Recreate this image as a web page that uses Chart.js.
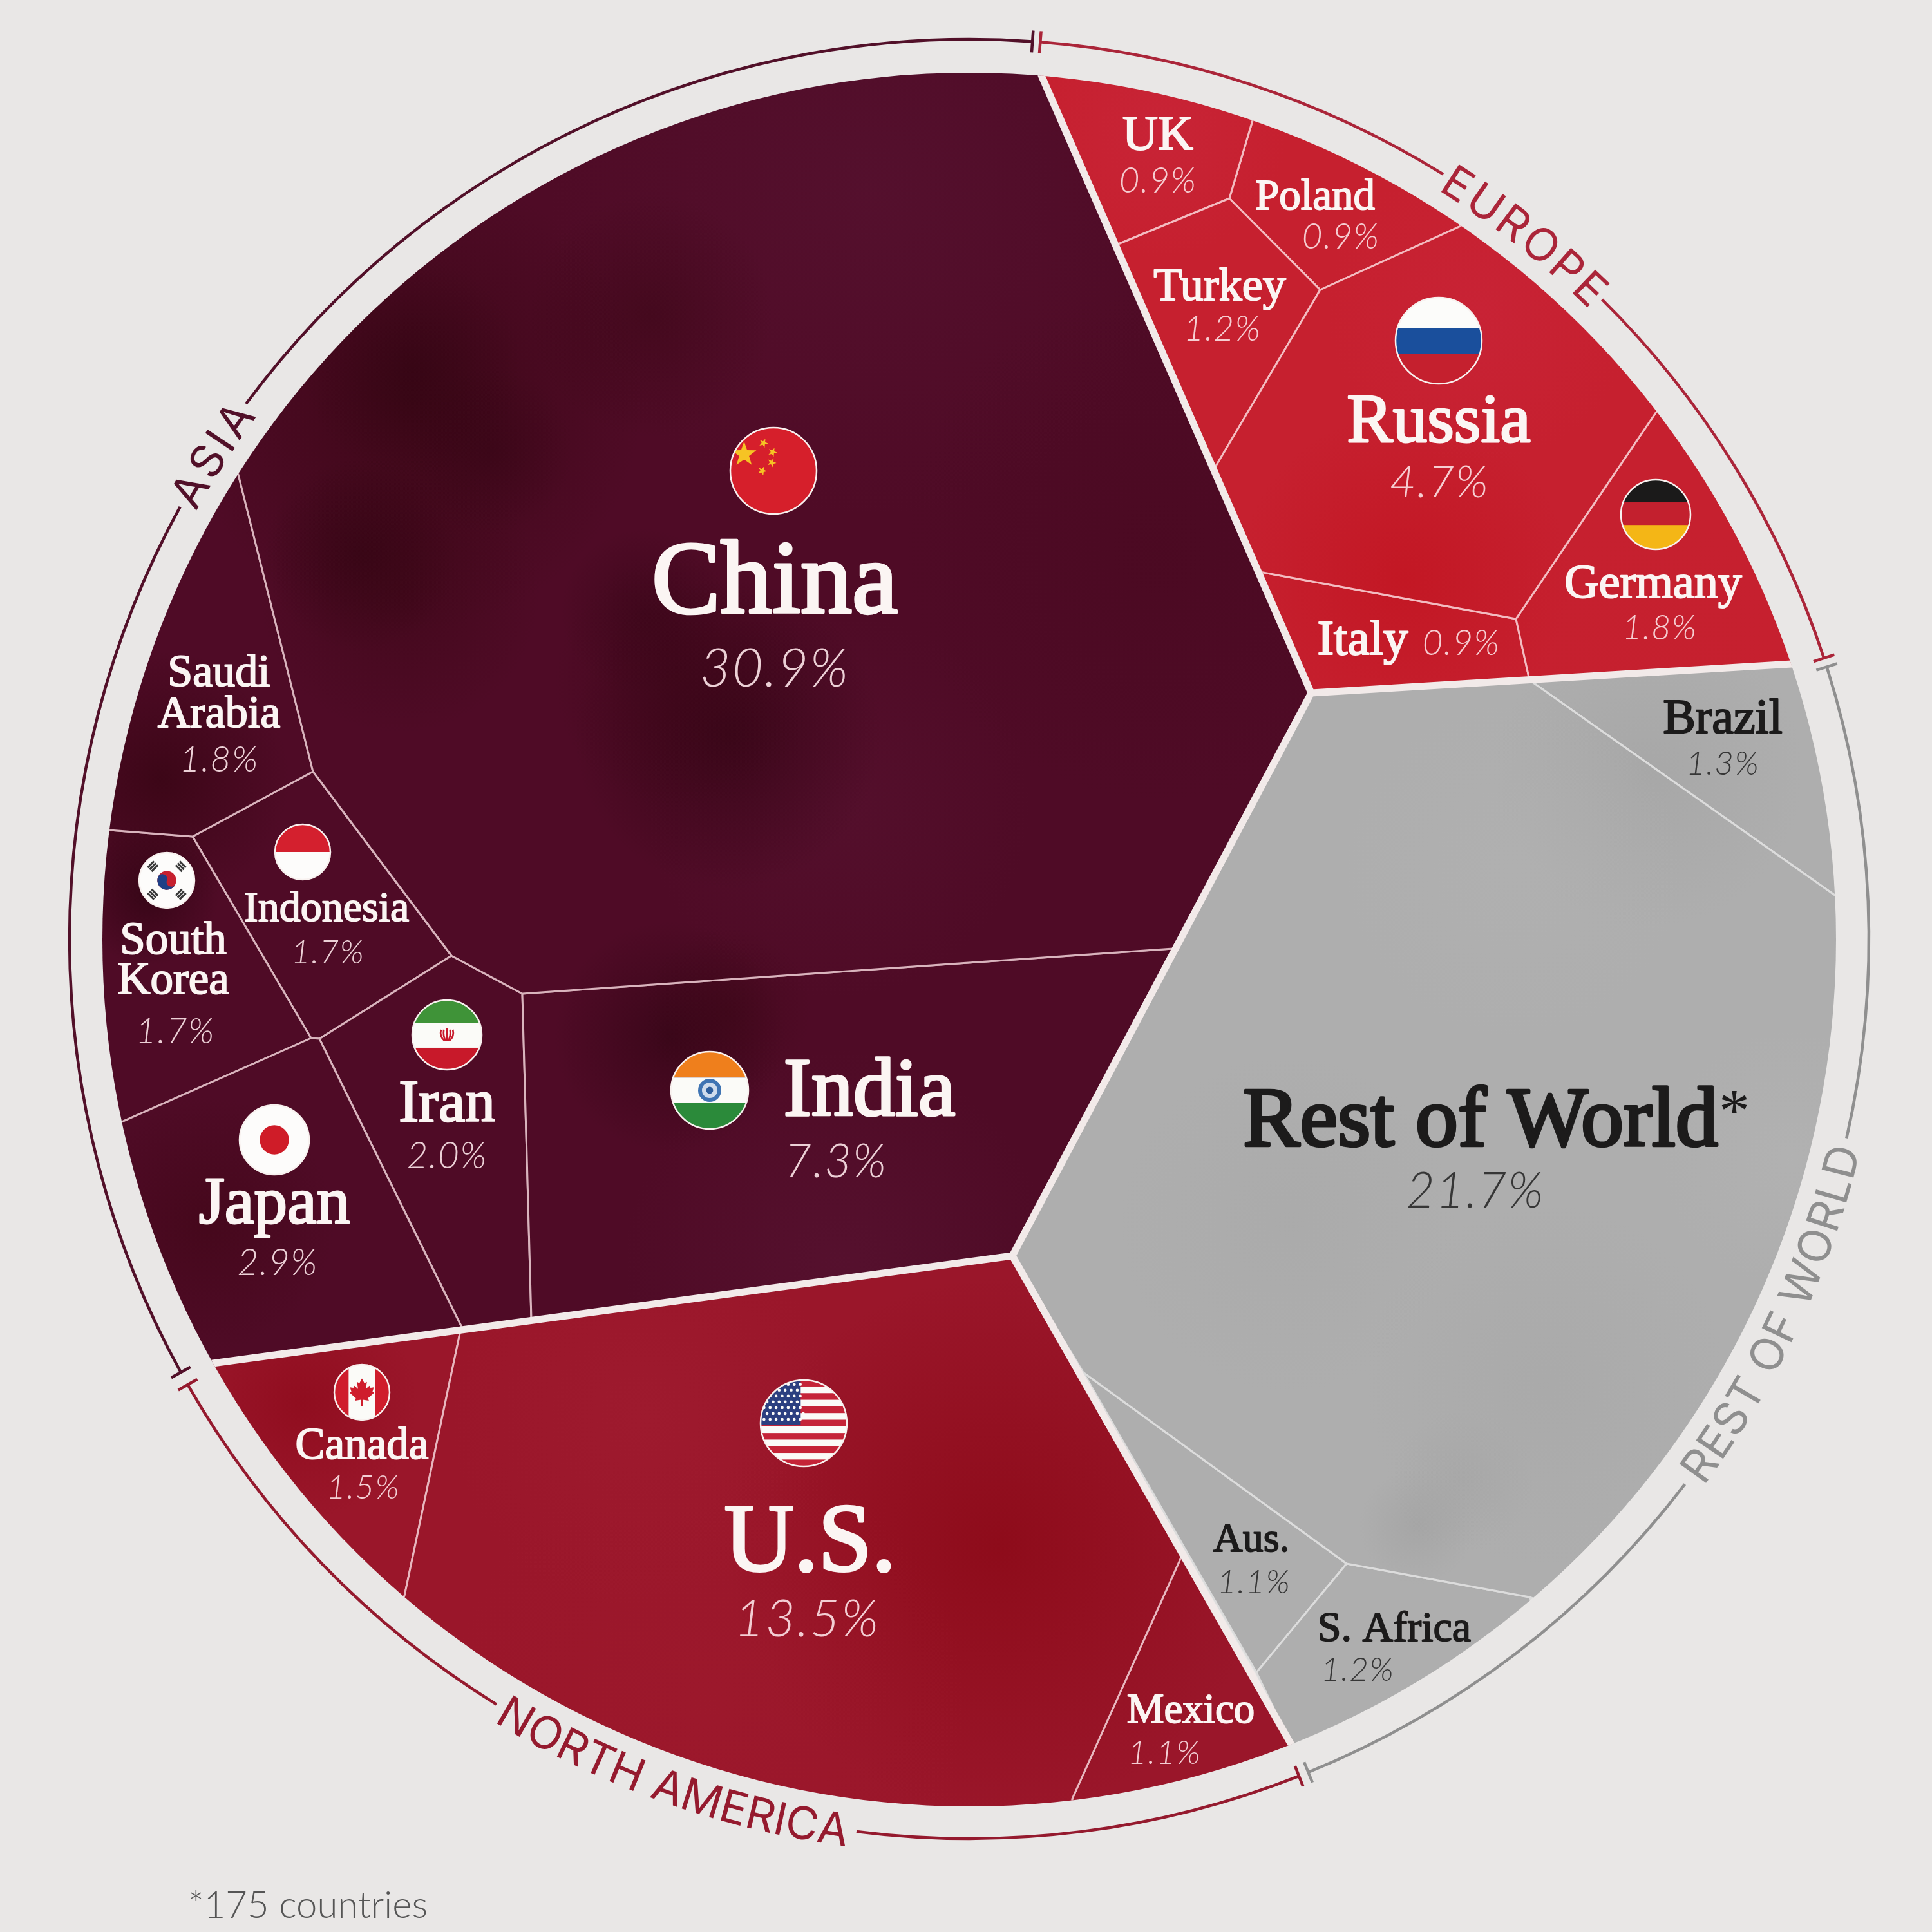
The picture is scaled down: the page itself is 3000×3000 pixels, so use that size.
<!DOCTYPE html>
<html>
<head>
<meta charset="utf-8">
<title>Share by country</title>
<script src="https://cdn.jsdelivr.net/npm/chart.js@4"></script>
<style>
  html, body { margin: 0; background: #e9e7e6; }
  canvas { display: block; }
</style>
</head>
<body>
<canvas id="voronoiChart" width="3000" height="3000"></canvas>
<script>
const regionNames = ['ASIA', 'NORTH AMERICA', 'EUROPE', 'REST OF WORLD'];
const countries = ['China', 'India', 'Japan', 'Iran', 'Saudi Arabia', 'South Korea', 'Indonesia',
  'U.S.', 'Canada', 'Mexico',
  'Russia', 'Germany', 'Turkey', 'UK', 'Poland', 'Italy',
  'Rest of World', 'Brazil', 'S. Africa', 'Aus.'];
const shares = [30.9, 7.3, 2.9, 2.0, 1.8, 1.7, 1.7,
  13.5, 1.5, 1.1,
  4.7, 1.8, 1.2, 0.9, 0.9, 0.9,
  21.7, 1.3, 1.2, 1.1];
const cellRegion = [0, 0, 0, 0, 0, 0, 0, 1, 1, 1, 2, 2, 2, 2, 2, 2, 3, 3, 3, 3];

// Cell outlines in axis units, same order as countries. Points past the rim get clipped by the disk.
const cellOutlines = [
  [[1617,117],[2036,1076],[1821,1473],[811,1543],[701,1484],[486,1198],[370,737],[100,100],[1600,0]],
  [[811,1543],[1821,1473],[1572,1950],[825,2047]],
  [[483,1612],[496,1613],[719,2065],[330,2117],[150,2300],[60,1780],[189,1742]],
  [[701,1484],[811,1543],[825,2050],[719,2065],[496,1613]],
  [[370,737],[486,1198],[299,1299],[170,1289],[60,1270],[200,650]],
  [[170,1289],[299,1299],[483,1612],[189,1742],[60,1780],[60,1270]],
  [[486,1198],[701,1484],[496,1613],[483,1612],[299,1299]],
  [[715,2066],[1572,1950],[1835,2416],[1665,2793],[1650,3000],[450,2900],[628,2478]],
  [[330,2117],[715,2066],[628,2478],[450,2900],[150,2300]],
  [[1835,2416],[2004,2707],[2100,2900],[1650,3000],[1665,2793]],
  [[2050,450],[2268,351],[2400,150],[2800,400],[2571,641],[2354,961],[1956,888],[1886,727]],
  [[2571,641],[2800,400],[3000,1000],[2782,1031],[2375,1056],[2354,961]],
  [[1734,380],[1909,308],[2050,450],[1886,727]],
  [[1617,117],[1600,0],[2000,0],[1945,187],[1909,308],[1734,380]],
  [[1945,187],[2000,0],[2400,150],[2268,351],[2050,450],[1909,308]],
  [[1956,888],[2354,961],[2375,1056],[2036,1076]],
  [[2036,1076],[2375,1056],[2849,1390],[3000,1400],[3000,2700],[2375,2480],[2091,2428],[1682,2131],[1572,1950]],
  [[2375,1056],[2782,1031],[3000,1000],[3000,1400],[2849,1390]],
  [[2091,2428],[2375,2480],[2600,2900],[2100,2900],[2004,2707],[1951,2597]],
  [[1682,2131],[2091,2428],[1951,2597]]
];
const regionSeams = [
  [[1617,117],[2036,1076]],
  [[2782,1031],[2036,1076],[1572,1950],[2004,2707]],
  [[330,2117],[1572,1950]]
];

const rimCenter = [1505, 1459];
const rimRadius = 1346;
const ringCenter = [1505, 1458];
const ringRadius = 1397;

const edgeColors = ['#d9b4bd', '#e8b7bf', '#f3bcc1', '#dcdcdc'];
const nameColors = ['#fbf5f3', '#fbf5f3', '#fbf5f3', '#1c1b1b'];
const shareColors = ['#ecd0d6', '#f3cdd3', '#f6cdd1', '#363636'];
const ringColors = ['#521029', '#951a2e', '#ab2539', '#8f8f8f'];

// Mottled fills for each region, one full-size canvas per pattern
function makeTexture(base, blotches) {
  const c = document.createElement('canvas');
  c.width = 3000; c.height = 3000;
  const g = c.getContext('2d');
  g.fillStyle = base;
  g.fillRect(0, 0, 3000, 3000);
  blotches.forEach(([x, y, r, col]) => {
    const grad = g.createRadialGradient(x, y, 0, x, y, r);
    grad.addColorStop(0, col);
    grad.addColorStop(1, col.slice(0, 7) + '00');
    g.fillStyle = grad;
    g.fillRect(x - r, y - r, r * 2, r * 2);
  });
  return g.createPattern(c, 'no-repeat');
}

const regionFills = [
  makeTexture('#4f0b26', [
    [1350, 300, 500, '#58133299'], [1300, 1250, 300, '#5a143377'], [1300, 1960, 330, '#5a143399'],
    [640, 620, 360, '#33050f99'], [640, 570, 170, '#2a030e66'], [760, 700, 130, '#2a030e55'],
    [1010, 490, 190, '#33050f66'], [560, 860, 150, '#2a030e77'], [620, 920, 220, '#33050f66'],
    [1130, 1140, 240, '#2c031099'], [1000, 950, 130, '#2c031066'], [1060, 1060, 200, '#3a061677'],
    [1040, 1610, 180, '#2a031088'], [1130, 1570, 130, '#33050f55'], [1800, 850, 400, '#47081e77'],
    [250, 1210, 200, '#330410aa'], [230, 1390, 110, '#2c0310aa'], [320, 1900, 200, '#3d051388']
  ]),
  makeTexture('#9a162a', [
    [1550, 2400, 420, '#8c0a18dd'], [470, 2180, 180, '#8d0a1bbb'], [1000, 2200, 300, '#a01c30aa'],
    [1100, 2650, 400, '#9e1a2d88']
  ]),
  makeTexture('#c6202f', [
    [2180, 900, 260, '#c21521cc'], [2300, 480, 240, '#c92438aa'], [1800, 200, 200, '#c9263aaa'],
    [2550, 1000, 220, '#c5202e88']
  ]),
  makeTexture('#aeaeae', [
    [2200, 2370, 90, '#9a9a9a66'], [2270, 2300, 110, '#9c9c9c55'], [2560, 1200, 240, '#a4a4a4aa'],
    [2400, 2150, 280, '#a7a7a799'], [2000, 1900, 260, '#a9a9a9aa'], [2350, 1350, 260, '#b1b1b1aa'],
    [2780, 1800, 200, '#b4b4b488']
  ])
];

const toPoints = outline => outline.map(([x, y]) => ({ x, y }));

const seamDatasets = regionSeams.map(seam => ({
  label: 'seam',
  data: toPoints(seam),
  showLine: true,
  fill: false,
  pointRadius: 0,
  borderColor: '#f2eae9',
  borderWidth: 11,
  borderCapStyle: 'round',
  borderJoinStyle: 'round'
}));

const cellDatasets = countries.map((name, i) => ({
  label: name,
  data: toPoints([...cellOutlines[i], cellOutlines[i][0]]),
  showLine: true,
  fill: 'shape',
  pointRadius: 0,
  backgroundColor: regionFills[cellRegion[i]],
  borderColor: edgeColors[cellRegion[i]],
  borderWidth: 3,
  borderJoinStyle: 'miter'
}));

// Text placement per country: name lines with baselines, then the share
const labelSpots = {
  'China': { x: 1203, lines: [951], size: 160, px: 1203, py: 1066, ps: 80 },
  'India': { x: 1350, lines: [1732], size: 130, px: 1298, py: 1828, ps: 70 },
  'Japan': { x: 426, lines: [1899], size: 103, px: 431, py: 1980, ps: 55 },
  'Iran': { x: 694, lines: [1741], size: 93, px: 694, py: 1814, ps: 55 },
  'Saudi Arabia': { x: 340, text: ['Saudi', 'Arabia'], lines: [1065, 1129], size: 70, px: 340, py: 1198, ps: 54 },
  'South Korea': { x: 269, text: ['South', 'Korea'], lines: [1481, 1543], size: 71, px: 272, py: 1620, ps: 54 },
  'Indonesia': { x: 507, lines: [1430], size: 66, px: 509, py: 1496, ps: 50 },
  'U.S.': { x: 1258, lines: [2439], size: 150, px: 1253, py: 2541, ps: 78 },
  'Canada': { x: 562, lines: [2265], size: 69, px: 564, py: 2327, ps: 50 },
  'Mexico': { x: 1849, lines: [2675], size: 65, px: 1808, py: 2739, ps: 50 },
  'Russia': { x: 2234, lines: [686], size: 107, px: 2235, py: 772, ps: 68 },
  'Germany': { x: 2567, lines: [928], size: 74, px: 2577, py: 993, ps: 51 },
  'Turkey': { x: 1894, lines: [466], size: 72, px: 1898, py: 529, ps: 53 },
  'UK': { x: 1798, lines: [232], size: 76, px: 1798, py: 299, ps: 53 },
  'Poland': { x: 2042, lines: [325], size: 67, px: 2082, py: 386, ps: 53 },
  'Italy': { x: 2116, lines: [1016], size: 77, px: 2269, py: 1017, ps: 53 },
  'Rest of World': { x: 2299, lines: [1779], size: 132, px: 2291, py: 1875, ps: 74, heavy: true },
  'Brazil': { x: 2675, lines: [1138], size: 76, px: 2675, py: 1203, ps: 50 },
  'S. Africa': { x: 2165, lines: [2548], size: 66, px: 2108, py: 2610, ps: 50 },
  'Aus.': { x: 1943, lines: [2409], size: 64, px: 1947, py: 2474, ps: 50 }
};

// Arc runs of the outer ring in degrees, with the region label sitting in the gap
const ringRuns = [
  { from: 151.2, to: 208.7, gapTo: 216.5, end: 274.03, mid: 212.6, span: 176, flip: false },
  { from: 68.5, to: 97.2, gapTo: 121.7, end: 150.3, mid: 109.5, span: 585, flip: true },
  { from: -85.47, to: -58.2, gapTo: -45.3, end: -18.19, mid: -51.7, span: 300, flip: false },
  { from: -17.6, to: 12.8, gapTo: 37.3, end: 67.86, mid: 25, span: 580, flip: true }
];
const rad = d => d * Math.PI / 180;

function drawArcText(ctx, text, cx, cy, r, midDeg, span, flip) {
  ctx.font = '400 70px Inter';
  ctx.textAlign = 'center';
  ctx.textBaseline = 'alphabetic';
  const widths = [...text].map(ch => ctx.measureText(ch).width);
  const total = widths.reduce((a, b) => a + b, 0);
  const gap = (span - total) / (text.length - 1);
  const capHalf = 25;
  const base = flip ? r + capHalf : r - capHalf;
  let run = -span / 2;
  [...text].forEach((ch, i) => {
    const along = run + widths[i] / 2;
    const a = rad(midDeg) + (flip ? -1 : 1) * along / base;
    ctx.save();
    ctx.translate(cx + base * Math.cos(a), cy + base * Math.sin(a));
    ctx.rotate(flip ? a - Math.PI / 2 : a + Math.PI / 2);
    ctx.fillText(ch, 0, 0);
    ctx.restore();
    run += widths[i] + gap;
  });
}

function star(ctx, x, y, r, turn) {
  ctx.beginPath();
  for (let i = 0; i < 10; i++) {
    const a = -Math.PI / 2 + turn + i * Math.PI / 5;
    const d = i % 2 ? r * 0.4 : r;
    ctx.lineTo(x + d * Math.cos(a), y + d * Math.sin(a));
  }
  ctx.closePath();
  ctx.fill();
}

function bands(ctx, list) {
  list.forEach(([top, bottom, col]) => {
    ctx.fillStyle = col;
    ctx.fillRect(-1.1, top, 2.2, bottom - top);
  });
}

function disc(ctx, x, y, r, col) {
  ctx.fillStyle = col;
  ctx.beginPath();
  ctx.arc(x, y, r, 0, Math.PI * 2);
  ctx.fill();
}

// Flag painters work on a unit circle
const flagPainters = {
  'China'(ctx) {
    bands(ctx, [[-1.1, 1.1, '#d61f2b']]);
    ctx.fillStyle = '#f6c324';
    star(ctx, -0.68, -0.38, 0.3, 0);
    [[-0.23, -0.64], [-0.02, -0.43], [-0.04, -0.19], [-0.26, 0]].forEach(([x, y]) => star(ctx, x, y, 0.11, 0.4));
  },
  'India'(ctx) {
    bands(ctx, [[-1.1, -0.33, '#ef7f1c'], [-0.33, 0.33, '#fbfbf8'], [0.33, 1.1, '#2b8a3a']]);
    disc(ctx, 0, 0, 0.3, '#3f74b3');
    disc(ctx, 0, 0, 0.2, '#cfdcec');
    disc(ctx, 0, 0, 0.09, '#2e5f9e');
  },
  'Japan'(ctx) {
    bands(ctx, [[-1.1, 1.1, '#fdfcfb']]);
    disc(ctx, 0, 0, 0.42, '#cf1c28');
  },
  'Iran'(ctx) {
    bands(ctx, [[-1.1, -0.35, '#3f9338'], [-0.35, 0.37, '#fbfbf8'], [0.37, 1.1, '#c8192a']]);
    ctx.strokeStyle = '#c8192a';
    ctx.lineWidth = 0.05;
    [-0.17, -0.09, 0.09, 0.17].forEach(x => {
      ctx.beginPath();
      ctx.moveTo(x, -0.15);
      ctx.quadraticCurveTo(x * 1.3, 0.05, x * 0.4, 0.17);
      ctx.stroke();
    });
    ctx.beginPath();
    ctx.moveTo(0, -0.2);
    ctx.lineTo(0, 0.18);
    ctx.stroke();
  },
  'South Korea'(ctx) {
    bands(ctx, [[-1.1, 1.1, '#fdfcfb']]);
    ctx.save();
    ctx.rotate(rad(20));
    disc(ctx, 0, 0, 0.34, '#c6202f');
    ctx.fillStyle = '#1f3f86';
    ctx.beginPath();
    ctx.arc(0, 0, 0.34, 0, Math.PI);
    ctx.arc(-0.17, 0, 0.17, Math.PI, 0, false);
    ctx.arc(0.17, 0, 0.17, Math.PI, 0, true);
    ctx.fill();
    ctx.restore();
    ctx.fillStyle = '#3a3a3a';
    [45, 135, 225, 315].forEach(d => {
      ctx.save();
      ctx.rotate(rad(d));
      [0.58, 0.68, 0.78].forEach(x => ctx.fillRect(x, -0.16, 0.07, 0.32));
      ctx.restore();
    });
  },
  'Indonesia'(ctx) {
    bands(ctx, [[-1.1, 0, '#d4202e'], [0, 1.1, '#fdfcfb']]);
  },
  'U.S.'(ctx) {
    bands(ctx, [[-1.1, 1.1, '#c52438']]);
    ctx.fillStyle = '#fbfbf8';
    for (let i = 0; i < 7; i++) ctx.fillRect(-1.1, -0.93 + i * 2 * 2 / 13 + 2 / 13 - 0.075, 2.2, 2 / 13);
    ctx.fillStyle = '#2b3f80';
    ctx.fillRect(-1.1, -1.1, 1.03, 1.14);
    ctx.fillStyle = '#fbfbf8';
    for (let row = 0; row < 7; row++) {
      for (let col = 0; col < 7; col++) {
        disc(ctx, -0.92 + col * 0.14 + (row % 2) * 0.07, -0.9 + row * 0.135, 0.035, '#fbfbf8');
      }
    }
  },
  'Canada'(ctx) {
    bands(ctx, [[-1.1, 1.1, '#fbfbf8']]);
    ctx.fillStyle = '#cf1d2c';
    ctx.fillRect(-1.1, -1.1, 0.62, 2.2);
    ctx.fillRect(0.48, -1.1, 0.62, 2.2);
    ctx.beginPath();
    [[0, -0.5], [0.09, -0.33], [0.18, -0.38], [0.14, -0.12], [0.27, -0.24], [0.31, -0.16], [0.43, -0.18],
     [0.38, -0.02], [0.44, 0.02], [0.22, 0.21], [0.25, 0.3], [0.03, 0.27], [0.03, 0.5],
     [-0.03, 0.5], [-0.03, 0.27], [-0.25, 0.3], [-0.22, 0.21], [-0.44, 0.02], [-0.38, -0.02], [-0.43, -0.18],
     [-0.31, -0.16], [-0.27, -0.24], [-0.14, -0.12], [-0.18, -0.38], [-0.09, -0.33]]
      .forEach(([x, y]) => ctx.lineTo(x, y));
    ctx.closePath();
    ctx.fill();
  },
  'Russia'(ctx) {
    bands(ctx, [[-1.1, -0.29, '#fcfcfa'], [-0.29, 0.31, '#1a4f9c'], [0.31, 1.1, '#c5202e']]);
  },
  'Germany'(ctx) {
    bands(ctx, [[-1.1, -0.35, '#1b1a1a'], [-0.35, 0.3, '#c3202e'], [0.3, 1.1, '#f4b616']]);
  }
};
const flagSpots = {
  'China': [1201, 731, 67], 'India': [1102, 1693, 60], 'Japan': [426, 1770, 54], 'Iran': [694, 1607, 54],
  'South Korea': [259, 1367, 43], 'Indonesia': [470, 1323, 43], 'U.S.': [1248, 2210, 67],
  'Canada': [562, 2162, 43], 'Russia': [2234, 529, 67], 'Germany': [2571, 799, 54]
};

// Keeps the cells inside the round rim, then adds ring, text and flags on top
const diskPlugin = {
  id: 'diskPlugin',
  beforeDatasetsDraw(chart) {
    const { ctx, scales: { x, y } } = chart;
    ctx.save();
    ctx.beginPath();
    ctx.arc(x.getPixelForValue(rimCenter[0]), y.getPixelForValue(rimCenter[1]),
      x.getPixelForValue(rimRadius) - x.getPixelForValue(0), 0, Math.PI * 2);
    ctx.clip();
  },
  afterDatasetsDraw(chart) {
    const { ctx, scales: { x, y } } = chart;
    ctx.restore();

    const cx = x.getPixelForValue(ringCenter[0]);
    const cy = y.getPixelForValue(ringCenter[1]);
    const r = x.getPixelForValue(ringRadius) - x.getPixelForValue(0);

    ringRuns.forEach((run, i) => {
      ctx.strokeStyle = ctx.fillStyle = ringColors[i];
      ctx.lineWidth = 4.5;
      ctx.beginPath();
      ctx.arc(cx, cy, r, rad(run.from), rad(run.to));
      ctx.stroke();
      ctx.beginPath();
      ctx.arc(cx, cy, r, rad(run.gapTo), rad(run.end));
      ctx.stroke();
      [run.from, run.end].forEach(d => {
        ctx.beginPath();
        ctx.moveTo(cx + (r - 17) * Math.cos(rad(d)), cy + (r - 17) * Math.sin(rad(d)));
        ctx.lineTo(cx + (r + 17) * Math.cos(rad(d)), cy + (r + 17) * Math.sin(rad(d)));
        ctx.stroke();
      });
      drawArcText(ctx, regionNames[i], cx, cy, r, run.mid, run.span, run.flip);
    });

    countries.forEach((name, i) => {
      const spot = labelSpots[name];
      const region = cellRegion[i];
      const size = spot.size;
      const lines = spot.text || [name];
      ctx.textAlign = 'center';
      ctx.textBaseline = 'alphabetic';
      ctx.font = `400 ${size}px "Liberation Serif"`;
      ctx.fillStyle = ctx.strokeStyle = nameColors[region];
      ctx.lineWidth = size * (spot.heavy ? 0.035 : 0.028);
      ctx.lineJoin = 'round';
      lines.forEach((line, j) => {
        const px = x.getPixelForValue(spot.x);
        const py = y.getPixelForValue(spot.lines[j]);
        ctx.fillText(line, px, py);
        ctx.strokeText(line, px, py);
      });
      ctx.font = `italic 300 ${spot.ps * 1.03}px Lato`;
      ctx.letterSpacing = `${spot.ps * 0.025}px`;
      ctx.fillStyle = shareColors[region];
      ctx.fillText(shares[i].toFixed(1) + '%', x.getPixelForValue(spot.px), y.getPixelForValue(spot.py));
      ctx.letterSpacing = '0px';
    });

    // Footnote marker after the grey cell's name
    ctx.font = '400 96px "Liberation Serif"';
    ctx.fillStyle = nameColors[3];
    ctx.fillText('*', x.getPixelForValue(2693), y.getPixelForValue(1757));

    Object.keys(flagSpots).forEach(name => {
      const [fx, fy, fr] = flagSpots[name];
      const px = x.getPixelForValue(fx);
      const py = y.getPixelForValue(fy);
      ctx.save();
      ctx.translate(px, py);
      ctx.scale(fr, fr);
      ctx.beginPath();
      ctx.arc(0, 0, 1, 0, Math.PI * 2);
      ctx.clip();
      flagPainters[name](ctx);
      ctx.restore();
      ctx.strokeStyle = '#f8f1ef';
      ctx.lineWidth = 2.5;
      ctx.beginPath();
      ctx.arc(px, py, fr, 0, Math.PI * 2);
      ctx.stroke();
    });

    ctx.font = '300 58px Lato';
    ctx.textAlign = 'left';
    ctx.fillStyle = '#555555';
    ctx.fillText('*175 countries', x.getPixelForValue(292), y.getPixelForValue(2978));
  }
};

new Chart(document.getElementById('voronoiChart'), {
  type: 'scatter',
  data: { datasets: [...seamDatasets, ...cellDatasets] },
  options: {
    responsive: false,
    animation: false,
    layout: { padding: 0 },
    plugins: { legend: { display: false }, tooltip: { enabled: false } },
    scales: {
      x: { type: 'linear', display: false, min: 0, max: 3000 },
      y: { type: 'linear', display: false, min: 0, max: 3000, reverse: true }
    }
  },
  plugins: [diskPlugin]
});
</script>
</body>
</html>
